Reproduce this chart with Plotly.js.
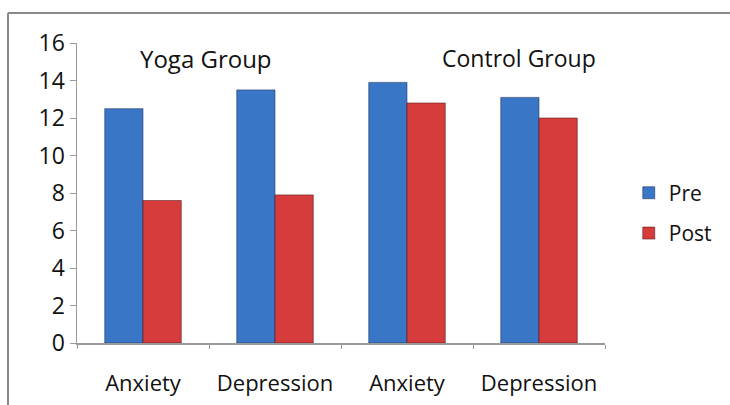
<!DOCTYPE html>
<html>
<head>
<meta charset="utf-8">
<script src="https://cdn.plot.ly/plotly-3.0.1.min.js"></script>
<style>html,body{margin:0;padding:0;background:#fff;}#chart{width:730px;height:405px;}</style>
</head>
<body>
<div id="chart"></div>
<script>
const categories = ["Yoga Anxiety", "Yoga Depression", "Control Anxiety", "Control Depression"];
const tickLabels = ["Anxiety", "Depression", "Anxiety", "Depression"];
const preValues = [12.5, 13.5, 13.9, 13.1];
const postValues = [7.6, 7.9, 12.8, 12.0];
const groupLabels = ["Yoga Group", "Control Group"];
const seriesNames = ["Pre", "Post"];

const FONT = "Open Sans, Liberation Sans, sans-serif";

const traces = [
  {type: "bar", name: seriesNames[0], x: categories, y: preValues,
   marker: {color: "#3A76C6", line: {color: "rgba(30,50,90,0.55)", width: 1}}, legendgroup: "a"},
  {type: "bar", name: seriesNames[1], x: categories, y: postValues,
   marker: {color: "#D63C3C", line: {color: "rgba(90,20,20,0.55)", width: 1}}, legendgroup: "b"}
];

const layout = {
  width: 730, height: 405,
  margin: {l: 77, r: 125, t: 43, b: 62},
  paper_bgcolor: "#fff", plot_bgcolor: "#fff",
  font: {family: FONT, size: 22, color: "#111"},
  barmode: "group", bargap: 0.42, bargroupgap: 0,
  showlegend: true,
  legend: {x: 1.045, y: 0.433, xanchor: "left", yanchor: "middle", traceorder: "grouped",
           tracegroupgap: 10, font: {family: FONT, size: 21, color: "#111"}, bgcolor: "rgba(0,0,0,0)"},
  xaxis: {type: "category", tickvals: categories, ticktext: tickLabels,
          showline: true, linecolor: "#9a9a9a", linewidth: 1.5,
          ticks: "outside", tickson: "boundaries", ticklen: 4, tickcolor: "#9a9a9a",
          ticklabelstandoff: 20,
          showgrid: false, zeroline: false, tickfont: {family: FONT, size: 22, color: "#111"}},
  yaxis: {range: [0, 16], tick0: 0, dtick: 2, showline: true, linecolor: "#9a9a9a", linewidth: 1.5,
          ticks: "outside", ticklen: 6, tickcolor: "#9a9a9a", showgrid: false, zeroline: false,
          tickfont: {family: FONT, size: 23, color: "#111"}},
  annotations: [
    {x: 0.48, y: 15.2, xref: "x", yref: "y", text: groupLabels[0], showarrow: false,
     font: {family: FONT, size: 24, color: "#111"}},
    {x: 2.85, y: 15.2, xref: "x", yref: "y", text: groupLabels[1], showarrow: false,
     font: {family: FONT, size: 23, color: "#111"}}
  ],
  shapes: [
    {type: "line", xref: "paper", yref: "paper", x0: -0.1307, x1: 1.25, y0: 1.1, y1: 1.1,
     line: {color: "#8a8a8a", width: 2}},
    {type: "line", xref: "paper", yref: "paper", x0: -0.1307, x1: -0.1307, y0: 1.1, y1: -0.25,
     line: {color: "#8a8a8a", width: 2}}
  ]
};

Plotly.newPlot("chart", traces, layout, {displayModeBar: false, staticPlot: true});
</script>
</body>
</html>
